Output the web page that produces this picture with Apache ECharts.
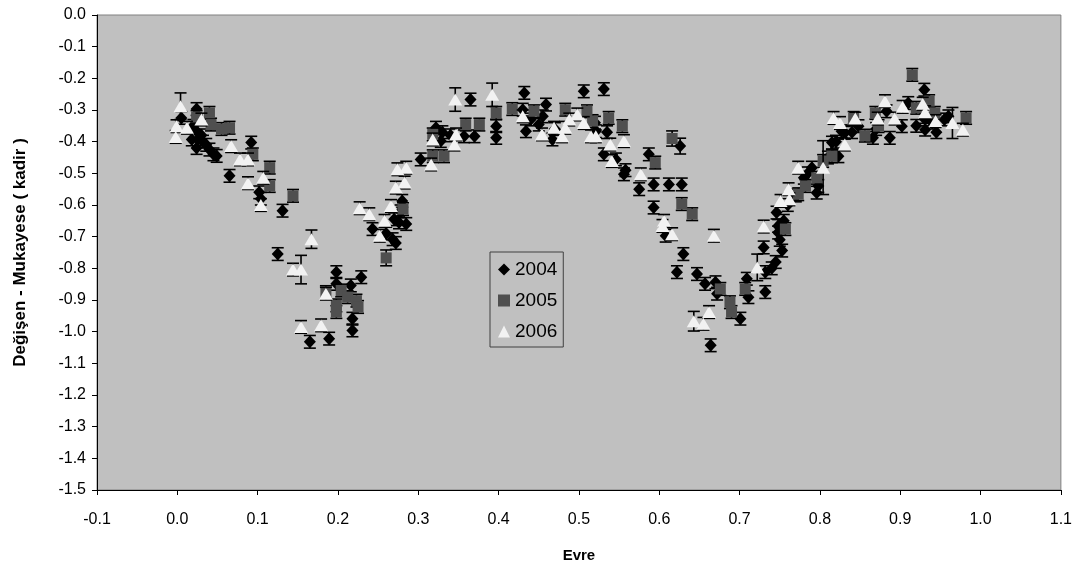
<!DOCTYPE html>
<html>
<head>
<meta charset="utf-8">
<script src="https://cdn.jsdelivr.net/npm/echarts@6/dist/echarts.min.js"></script>
<style>
html, body { margin: 0; padding: 0; background: #fff; }
#main { width: 1075px; height: 568px; }
</style>
</head>
<body>
<div id="main"></div>
<script>
// veriler: [evre, fark, hata] (hata yoksa 0.02)
let yillar = ['2004', '2005', '2006'];
let xTicks = [-0.1, 0.0, 0.1, 0.2, 0.3, 0.4, 0.5, 0.6, 0.7, 0.8, 0.9, 1.0, 1.1];
let yTicks = [0.0, -0.1, -0.2, -0.3, -0.4, -0.5, -0.6, -0.7, -0.8, -0.9, -1.0, -1.1, -1.2, -1.3, -1.4, -1.5];

let d2004 = [
    [0.005,-0.325],[0.02,-0.35],[0.024,-0.297],[0.024,-0.367],[0.026,-0.393],[0.018,-0.393],
    [0.024,-0.42],[0.032,-0.40],[0.04,-0.425],[0.049,-0.445],[0.03,-0.38],[0.036,-0.41],[0.045,-0.44],
    [0.065,-0.508],[0.092,-0.403],[0.102,-0.56],[0.104,-0.58],[0.131,-0.618],[0.125,-0.755],
    [0.165,-1.032],[0.189,-1.022],[0.198,-0.812],[0.198,-0.849],[0.216,-0.854],[0.229,-0.828],
    [0.218,-0.959],[0.218,-0.996],[0.243,-0.676],[0.26,-0.69],[0.268,-0.708],[0.272,-0.72],
    [0.27,-0.645],[0.276,-0.655],[0.278,-0.62],[0.285,-0.66],[0.28,-0.587],[0.303,-0.456],
    [0.322,-0.356],[0.328,-0.398],[0.33,-0.37],[0.34,-0.38],[0.357,-0.383],[0.37,-0.383],[0.365,-0.267],
    [0.397,-0.351],[0.397,-0.388],[0.432,-0.246],[0.43,-0.299],[0.434,-0.367],[0.44,-0.33],
    [0.459,-0.283],[0.45,-0.346],[0.455,-0.32],[0.467,-0.393],[0.47,-0.36],[0.506,-0.241],
    [0.531,-0.234],[0.521,-0.367],[0.52,-0.34],[0.535,-0.37],[0.531,-0.44],[0.546,-0.456],
    [0.556,-0.503],[0.558,-0.49],[0.587,-0.44],[0.575,-0.55],[0.593,-0.535],[0.612,-0.535],
    [0.628,-0.535],[0.626,-0.414,0.025],[0.593,-0.608],[0.608,-0.697],[0.63,-0.755],[0.622,-0.812],
    [0.647,-0.818],[0.657,-0.849],[0.67,-0.844],[0.672,-0.88],[0.664,-1.043],[0.701,-0.959],
    [0.711,-0.891],[0.709,-0.833],[0.732,-0.812],[0.732,-0.875],[0.73,-0.734],[0.74,-0.80],
    [0.745,-0.78],[0.75,-0.71],[0.753,-0.744],[0.746,-0.624],[0.748,-0.666],[0.748,-0.687],
    [0.755,-0.65],[0.76,-0.60],[0.77,-0.57],[0.78,-0.514],[0.785,-0.50],[0.79,-0.482],[0.798,-0.54],
    [0.796,-0.561],[0.81,-0.45],[0.815,-0.403],[0.82,-0.40],[0.827,-0.367],[0.831,-0.372],
    [0.823,-0.446],[0.84,-0.37],[0.848,-0.351],[0.866,-0.388],[0.87,-0.36],[0.887,-0.388],
    [0.883,-0.304],[0.902,-0.351],[0.91,-0.278],[0.92,-0.35],[0.93,-0.236],[0.931,-0.362],
    [0.931,-0.33],[0.94,-0.34],[0.945,-0.37],[0.955,-0.33],[0.96,-0.32]
];
let d2005 = [
    [0.024,-0.322],[0.04,-0.309],[0.042,-0.346],[0.055,-0.36],[0.065,-0.356],[0.094,-0.44],
    [0.115,-0.482],[0.115,-0.54],[0.144,-0.571],[0.185,-0.875],[0.204,-0.87],[0.198,-0.917],
    [0.212,-0.891],[0.223,-0.902],[0.225,-0.922],[0.198,-0.938],[0.26,-0.767,0.025],[0.281,-0.613],
    [0.318,-0.446],[0.332,-0.446],[0.318,-0.377],[0.359,-0.346],[0.376,-0.346],[0.397,-0.309],
    [0.417,-0.297],[0.444,-0.304],[0.483,-0.299],[0.51,-0.304],[0.517,-0.335],[0.537,-0.325],
    [0.554,-0.351],[0.595,-0.466],[0.616,-0.39,0.024],[0.628,-0.597],[0.641,-0.629],[0.676,-0.865],
    [0.688,-0.907],[0.69,-0.938],[0.707,-0.865],[0.757,-0.676],[0.773,-0.566],[0.782,-0.54],
    [0.796,-0.514],[0.804,-0.461],[0.815,-0.446],[0.842,-0.325],[0.856,-0.381],[0.869,-0.309],
    [0.873,-0.351],[0.915,-0.189],[0.92,-0.293],[0.936,-0.272],[0.943,-0.309],[0.982,-0.325]
];
let d2006 = [
    [0.004,-0.288,0.042],[-0.001,-0.351],[0.012,-0.356],[-0.002,-0.385],[0.03,-0.33],[0.067,-0.414],
    [0.078,-0.456],[0.088,-0.456],[0.088,-0.531],[0.107,-0.514],[0.104,-0.6],[0.167,-0.708,0.029],
    [0.144,-0.804],[0.154,-0.804,0.045],[0.185,-0.88],[0.154,-0.985],[0.179,-0.98],[0.227,-0.61],
    [0.239,-0.629],[0.252,-0.697],[0.258,-0.65],[0.266,-0.603],[0.272,-0.545],[0.274,-0.487],
    [0.285,-0.482],[0.283,-0.529],[0.316,-0.472],[0.318,-0.393],[0.345,-0.409],[0.347,-0.377],
    [0.346,-0.267,0.037],[0.392,-0.252,0.037],[0.43,-0.32],[0.454,-0.377],[0.469,-0.356],
    [0.479,-0.383],[0.483,-0.356],[0.488,-0.33],[0.498,-0.314],[0.506,-0.341],[0.515,-0.383],
    [0.521,-0.383],[0.539,-0.409],[0.541,-0.461],[0.556,-0.398],[0.577,-0.503],[0.606,-0.65],
    [0.604,-0.666],[0.616,-0.692],[0.668,-0.697],[0.643,-0.967,0.031],[0.655,-0.975],[0.662,-0.938],
    [0.722,-0.797,0.042],[0.73,-0.668],[0.751,-0.587],[0.762,-0.582],[0.761,-0.55],[0.773,-0.482],
    [0.804,-0.482,0.085],[0.817,-0.325],[0.825,-0.341],[0.831,-0.409],[0.844,-0.327],[0.872,-0.327],
    [0.881,-0.272],[0.893,-0.327],[0.903,-0.29],[0.928,-0.28],[0.931,-0.307],[0.944,-0.335],
    [0.965,-0.341,0.049],[0.978,-0.362]
];

// hata çubukları için veri: [x, y, alt, üst]
function hataVeri(arr) {
    return arr.map(v => {
        let e = v[2] === undefined ? 0.02 : v[2];
        return [v[0], v[1], v[1] - e, v[1] + e];
    });
}

function hataCiz(params, api) {
    let alt = api.coord([api.value(0), api.value(2)]);
    let ust = api.coord([api.value(0), api.value(3)]);
    let w = 6;
    let st = { stroke: '#000', lineWidth: 1.6 };
    return {
        type: 'group',
        children: [
            { type: 'line', shape: { x1: ust[0], y1: ust[1], x2: alt[0], y2: alt[1] }, style: st },
            { type: 'line', shape: { x1: ust[0] - w, y1: ust[1], x2: ust[0] + w, y2: ust[1] }, style: st },
            { type: 'line', shape: { x1: alt[0] - w, y1: alt[1], x2: alt[0] + w, y2: alt[1] }, style: st }
        ]
    };
}

let veriler = [d2004, d2005, d2006];
let semboller = ['diamond', 'rect', 'triangle'];
let boyutlar = [[12, 13], 11, [14, 12]];
let renkler = ['#000000', '#4f4f4f', '#f2f2f2'];

let seriler = [];
veriler.forEach((d, i) => {
    seriler.push({
        type: 'custom',
        name: 'hata' + yillar[i],
        renderItem: hataCiz,
        data: hataVeri(d),
        encode: { x: 0, y: [1, 2, 3] },
        z: 1 + i * 2,
        silent: true
    });
    seriler.push({
        type: 'scatter',
        name: yillar[i],
        data: d.map(v => [v[0], v[1]]),
        symbol: semboller[i],
        symbolSize: boyutlar[i],
        itemStyle: { color: renkler[i], opacity: 1 },
        z: 2 + i * 2,
        silent: true
    });
});

let myChart = echarts.init(document.getElementById('main'));
let option = {
    animation: false,
    textStyle: { fontFamily: 'Liberation Sans, Arial, sans-serif' },
    grid: {
        left: 97, right: 12, top: 15, bottom: 76,
        show: true, backgroundColor: '#c0c0c0', borderColor: '#808080', borderWidth: 1
    },
    legend: {
        data: yillar,
        orient: 'vertical',
        left: 490, top: 252,
        padding: [8, 6, 6, 8],
        itemGap: 12,
        itemWidth: 12, itemHeight: 12,
        backgroundColor: '#c0c0c0',
        borderColor: '#404040', borderWidth: 1,
        textStyle: { fontSize: 19, color: '#000', fontFamily: 'Liberation Sans, Arial, sans-serif' }
    },
    xAxis: {
        type: 'value',
        min: -0.1, max: 1.1, interval: 0.1,
        name: 'Evre',
        nameLocation: 'middle', nameGap: 58,
        nameTextStyle: { fontWeight: 'bold', fontSize: 15, color: '#000' },
        axisLine: { onZero: false, lineStyle: { color: '#000', width: 1 } },
        axisTick: { length: 5, lineStyle: { color: '#000' } },
        axisLabel: { fontSize: 16, color: '#000', margin: 22, formatter: v => v.toFixed(1) },
        splitLine: { show: false }
    },
    yAxis: {
        type: 'value',
        min: -1.5, max: 0, interval: 0.1,
        name: 'Değişen - Mukayese ( kadir )',
        nameLocation: 'middle', nameGap: 68,
        nameTextStyle: { fontWeight: 'bold', fontSize: 17, color: '#000' },
        axisLine: { onZero: false, lineStyle: { color: '#000', width: 1 } },
        axisTick: { length: 5, lineStyle: { color: '#000' } },
        axisLabel: { fontSize: 16, color: '#000', margin: 11, formatter: v => v.toFixed(1) },
        splitLine: { show: false }
    },
    series: seriler
};
myChart.setOption(option);
</script>
</body>
</html>
